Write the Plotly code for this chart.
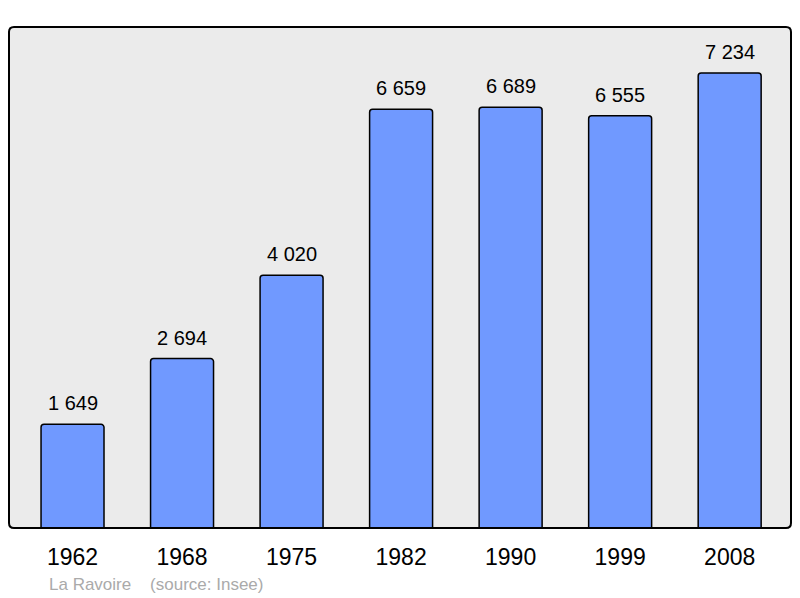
import plotly.graph_objects as go

years = ["1962", "1968", "1975", "1982", "1990", "1999", "2008"]
population = [1649, 2694, 4020, 6659, 6689, 6555, 7234]
labels = [f"{v:,}".replace(",", " ") for v in population]
footer = "La Ravoire    (source: Insee)"

W, H = 800, 598
L, T = 9, 27
R = W - 791
B = H - 528
pw, ph = W - L - R, H - T - B

fig = go.Figure()
fig.add_trace(go.Bar(
    x=list(range(len(years))), y=population,
    width=0.575,
    marker=dict(color="#7099ff", line=dict(color="#000000", width=1.5), cornerradius=3),
    hoverinfo="skip",
))

for i, (v, t) in enumerate(zip(population, labels)):
    fig.add_annotation(x=i, y=v, text=t, showarrow=False, yanchor="bottom",
                       yshift=8, font=dict(family="Liberation Sans, Arial", size=20, color="#000000"))

fig.add_annotation(xref="paper", yref="paper", x=(47 - L) / pw, y=(528 - 584) / ph,
                   xanchor="left", yanchor="middle", text=footer, showarrow=False,
                   font=dict(family="Liberation Sans, Arial", size=17, color="#aaaaaa"))

# rounded border of plot area
rx, ry = 5 / pw, 5 / ph
path = (f"M {rx},0 L {1-rx},0 Q 1,0 1,{ry} L 1,{1-ry} Q 1,1 {1-rx},1 "
        f"L {rx},1 Q 0,1 0,{1-ry} L 0,{ry} Q 0,0 {rx},0 Z")
fig.add_shape(type="path", xref="paper", yref="paper", path=path,
              line=dict(color="#000000", width=2), layer="above")

fig.update_layout(
    width=W, height=H,
    margin=dict(l=L, r=R, t=T, b=B, pad=0),
    paper_bgcolor="#ffffff", plot_bgcolor="#ebebeb",
    showlegend=False,
    xaxis=dict(range=[-0.58, 6.56], tickvals=list(range(len(years))), ticktext=years,
               showgrid=False, zeroline=False, showline=False,
               ticks="outside", ticklen=8, tickcolor="rgba(0,0,0,0)",
               tickfont=dict(family="Liberation Sans, Arial", size=23, color="#000000")),
    yaxis=dict(range=[0, 7965], showgrid=False, zeroline=False, showline=False,
               showticklabels=False, ticks=""),
)

fig.write_html("out.html", config={"displayModeBar": False},
               post_script="document.body.style.margin='0';document.body.style.overflow='hidden';")
